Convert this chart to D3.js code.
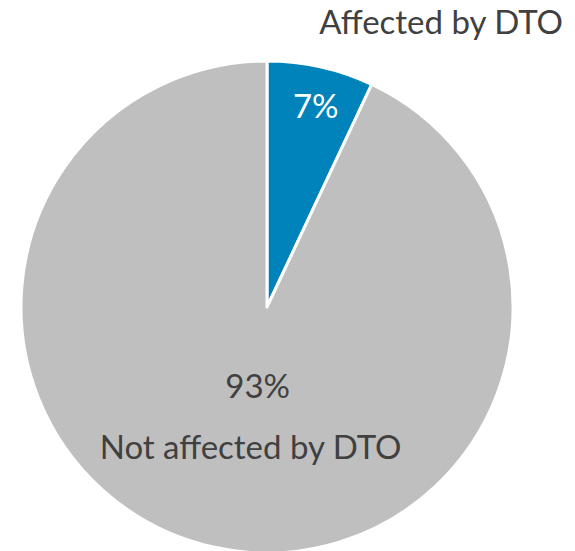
<!DOCTYPE html>
<html>
<head>
<meta charset="utf-8">
<script src="https://cdn.jsdelivr.net/npm/d3@7"></script>
<style>
  html, body { margin: 0; padding: 0; background: #fff; }
  svg { display: block; }
  text { font-family: Lato, "Open Sans", sans-serif; }
</style>
</head>
<body>
<svg id="chart" width="575" height="551"></svg>
<script>
// Share of items affected by DTO
const categories = ["Affected by DTO", "Not affected by DTO"];
const values = [7, 93];
const valueLabels = ["7%", "93%"];
const colors = ["#0083BA", "#BFBFBF"];

const svg = d3.select("#chart");
const cx = 267, cy = 307, radius = 246;
const fontSize = 33;

const pie = d3.pie().sort(null).value(d => d.value);
const data = categories.map((c, i) => ({ category: c, value: values[i], label: valueLabels[i], color: colors[i] }));
const arcs = pie(data);

const arc = d3.arc().innerRadius(0).outerRadius(radius);
const g = svg.append("g").attr("transform", `translate(${cx},${cy})`);

g.selectAll("path.slice")
  .data(arcs)
  .join("path")
  .attr("class", "slice")
  .attr("d", arc)
  .attr("fill", d => d.data.color)
  .attr("stroke", "#fff")
  .attr("stroke-width", 3)
  .attr("stroke-linejoin", "round");

// value labels
const inArc = [
  d3.arc().innerRadius(205).outerRadius(205),
  d3.arc().innerRadius(98).outerRadius(98)
];
const valPos = arcs.map((d, i) => inArc[i].centroid(d));

g.append("text")
  .attr("x", valPos[0][0] + 4).attr("y", valPos[0][1] + 11)
  .attr("text-anchor", "middle")
  .attr("font-size", fontSize)
  .attr("fill", "#fff")
  .text(arcs[0].data.label);

g.append("text")
  .attr("x", valPos[1][0] + 12).attr("y", valPos[1][1] - 5)
  .attr("text-anchor", "middle")
  .attr("font-size", fontSize)
  .attr("fill", "#404040")
  .text(arcs[1].data.label);

g.append("text")
  .attr("x", valPos[1][0] + 5).attr("y", valPos[1][1] + 56)
  .attr("text-anchor", "middle")
  .attr("font-size", fontSize)
  .attr("fill", "#404040")
  .text(arcs[1].data.category);

// category label for the small slice, placed outside above the pie
svg.append("text")
  .attr("x", 563).attr("y", 34)
  .attr("text-anchor", "end")
  .attr("font-size", fontSize)
  .attr("fill", "#404040")
  .text(arcs[0].data.category);
</script>
</body>
</html>
